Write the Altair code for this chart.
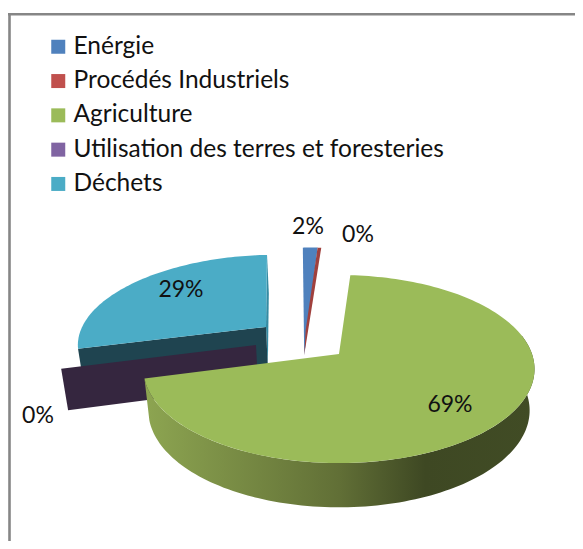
import numpy as np
import pandas as pd
import altair as alt

categories = ["Enérgie", "Procédés Industriels", "Agriculture",
              "Utilisation des terres et foresteries", "Déchets"]
values = [1.6, 0.4, 69.0, 0.1, 28.9]
shown = ["2%", "0%", "69%", "0%", "29%"]
top_colors = ["#4f81bd", "#a8423f", "#9bbb59", "#35263f", "#4bacc6"]
legend_colors = ["#4f81bd", "#c0504d", "#9bbb59", "#8064a2", "#4bacc6"]
label_x = [308, 358, 450, 38, 181]
label_y = [227, 235, 405, 416, 290]

# projection of the tilted pie
CX, CY, RX, RY, K = 339.0, 354.0, 193.0, 91.6, 0.16
ROT = -0.5
DROP, SX, SY = 41.0, 0.975, 1.03
explode = [(-0.18, -0.01), (-0.18, -0.01), (0.0, 0.0), (-0.437, 0.10), (-0.397, 0.31)]
reach = [1.437, 1.437, 1.0, 1.0, 1.0]
GREEN_START_NUDGE = -2.8   # perspective of the original renderer
TEAL_END_NUDGE = -2.6

starts = ROT + 3.6 * np.concatenate([[0], np.cumsum(values)[:-1]])
ends = starts + 3.6 * np.array(values)


def project(u, v, low=False):
    w = 1 + K * v
    dx, dy = RX * u / w, -RY * v / w
    if low:
        return CX + SX * dx, CY + SY * dy + DROP
    return CX + dx, CY + dy


def rim(i, a0, a1, low=False, n=80):
    ex, ey = explode[i]
    t = np.radians(np.linspace(a0, a1, n))
    return [project(ex + reach[i] * np.sin(a), ey + reach[i] * np.cos(a), low) for a in t]


def apex(i, low=False):
    return project(*explode[i], low)


x_enc = alt.X("x:Q", scale=alt.Scale(domain=[8, 575], range=[0, 567], nice=False, zero=False), axis=None)
y_enc = alt.Y("y:Q", scale=alt.Scale(domain=[8, 541], range=[0, 533], nice=False, zero=False), axis=None)


def poly(points, fill):
    df = pd.DataFrame(points, columns=["x", "y"])
    df["i"] = range(len(df))
    return alt.Chart(df).mark_line(
        interpolate="linear-closed", fill=fill,
        stroke="transparent", strokeWidth=0.5,
    ).encode(x=x_enc, y=y_enc, order="i:Q")


layers = []

# Déchets: cut faces then top
T = 4
teal_end = ends[T] + TEAL_END_NUDGE
layers.append(poly([rim(T, teal_end, teal_end, n=1)[0], rim(T, teal_end, teal_end, True, n=1)[0],
                    apex(T, True), apex(T)], "#358ba3"))
layers.append(poly([apex(T), rim(T, starts[T], starts[T], n=1)[0],
                    rim(T, starts[T], starts[T], True, n=1)[0], apex(T, True)], "#1f4450"))
layers.append(poly([apex(T)] + rim(T, starts[T], teal_end), top_colors[T]))

# Enérgie and Procédés Industriels: pulled far out, narrow
PIVOT, PINCH = -2.0, 0.65
a0 = PIVOT + (starts[0] - ROT) * PINCH
a1 = PIVOT + (ends[0] - ROT) * PINCH
a2 = PIVOT + (ends[1] - ROT) * PINCH
layers.append(poly([apex(0)] + rim(0, a0, a1, n=12), top_colors[0]))
ax, ay = apex(1)
layers.append(poly([(ax, ay), (ax + 1.5, ay - 25)] + rim(1, a1, a2, n=6), "#a0403d"))

# Utilisation des terres: only its cut face shows
U = 3
layers.append(poly([apex(U), rim(U, starts[U], starts[U], n=1)[0],
                    rim(U, starts[U], starts[U], True, n=1)[0], apex(U, True)], top_colors[U]))

# Agriculture: outer wall with gradient, then top
A = 2
wall_top = rim(A, 78, ends[A], n=120)
wall_low = rim(A, 78, ends[A], True, n=120)
gradient = alt.Gradient(
    gradient="linear", x1=0, x2=1, y1=0, y2=0,
    stops=[
        alt.GradientStop(color="#8da551", offset=0),
        alt.GradientStop(color="#616f36", offset=0.5),
        alt.GradientStop(color="#3e4823", offset=0.72),
        alt.GradientStop(color="#414c25", offset=1),
    ],
)
layers.append(poly(wall_top + wall_low[::-1], gradient))
layers.append(poly([apex(A)] + rim(A, starts[A] + GREEN_START_NUDGE, ends[A], n=160), top_colors[A]))

# percentage labels
labels = pd.DataFrame({"x": label_x, "y": label_y, "t": shown})
layers.append(alt.Chart(labels).mark_text(font="Lato", fontSize=23, color="#111111", align="center", baseline="middle")
              .encode(x=x_enc, y=y_enc, text="t:N"))

# legend
leg = pd.DataFrame({"c": categories, "x": [300] * 5, "y": [300] * 5})
layers.append(alt.Chart(leg).mark_point(filled=True, size=0, shape="square").encode(
    x=x_enc, y=y_enc,
    color=alt.Color("c:N", sort=categories,
                    scale=alt.Scale(domain=categories, range=legend_colors),
                    legend=alt.Legend(title=None, orient="none", legendX=38, legendY=26.5,
                                      symbolType="square", symbolSize=196, symbolOpacity=1,
                                      labelFont="Lato", labelFontSize=24.5, labelColor="#111111",
                                      labelLimit=500, rowPadding=9.3, labelOffset=3, symbolStrokeWidth=0)),
))

# chart frame: top and left edges only
frame = pd.DataFrame({"k": [0]})
layers.append(alt.Chart(frame).mark_rule(color="#868686", strokeWidth=2.6).encode(
    x=alt.value(1.5), y=alt.value(6.3), y2=alt.value(533)))
layers.append(alt.Chart(frame).mark_rule(color="#868686", strokeWidth=2.6).encode(
    x=alt.value(0), x2=alt.value(567), y=alt.value(6.3)))

chart = alt.layer(*layers).properties(
    width=567, height=533, padding=0, autosize=alt.AutoSizeParams(type="none"), background="white",
).configure_view(stroke=None)

chart.save("out.html", embed_options={"renderer": "svg", "actions": False})
